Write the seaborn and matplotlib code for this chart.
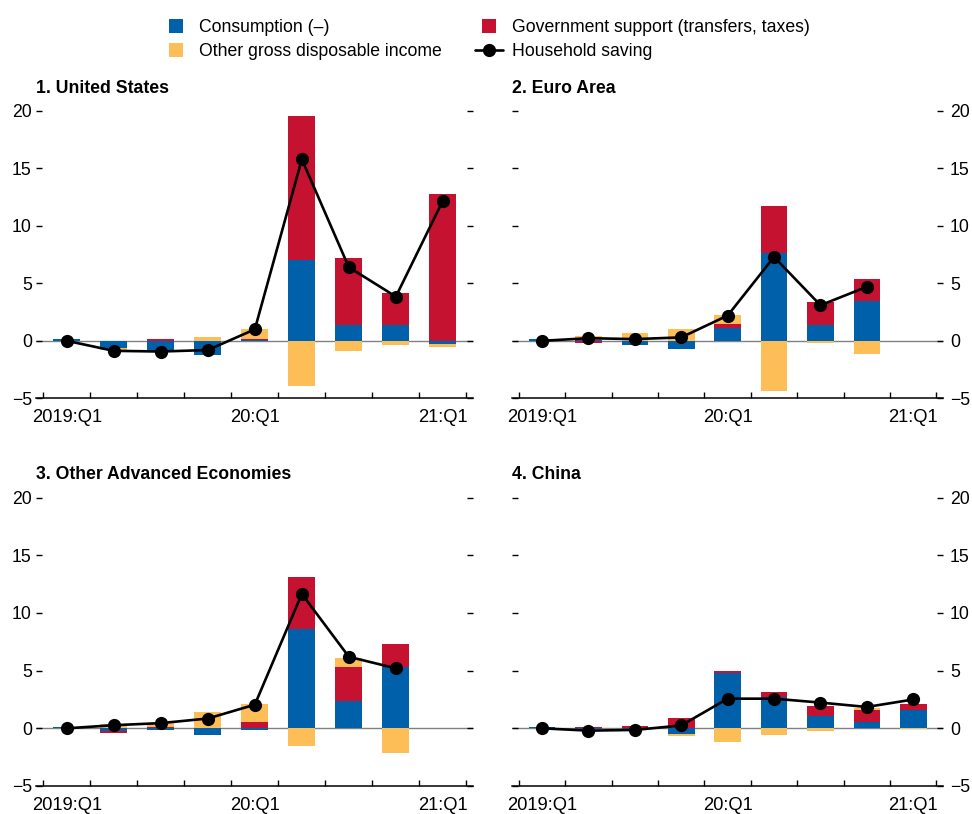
import numpy as np
import pandas as pd
import matplotlib
matplotlib.use("Agg")
import matplotlib.pyplot as plt
from matplotlib.lines import Line2D
import seaborn as sns

# ---------------- data ----------------
quarters = ["2019:Q1", "2019:Q2", "2019:Q3", "2019:Q4", "20:Q1",
            "2020:Q2", "2020:Q3", "2020:Q4", "21:Q1"]
tick_pos = [0, 4, 8]
tick_labels = ["2019:Q1", "20:Q1", "21:Q1"]
nan = np.nan

titles = ["1. United States", "2. Euro Area",
          "3. Other Advanced Economies", "4. China"]

us_cons = [0.2, -0.6, -0.9, -1.2, 0.1, 7.05, 1.4, 1.4, -0.25]
us_gov = [0.0, 0.0, 0.17, 0.0, 0.1, 12.5, 5.8, 2.75, 12.8]
us_other = [0.0, -0.2, -0.1, 0.35, 0.8, -3.9, -0.85, -0.35, -0.25]
us_saving = [0.0, -0.87, -0.93, -0.8, 1.0, 15.8, 6.4, 3.85, 12.2]

ea_cons = [0.15, 0.05, -0.35, -0.7, 1.15, 7.6, 1.4, 3.5, nan]
ea_gov = [0.0, -0.17, 0.0, 0.0, 0.32, 4.15, 2.0, 1.9, nan]
ea_other = [0.0, 0.35, 0.7, 1.05, 0.78, -4.35, -0.17, -1.13, nan]
ea_saving = [0.0, 0.23, 0.15, 0.3, 2.2, 7.3, 3.1, 4.7, nan]

oae_cons = [0.1, -0.2, -0.15, -0.58, -0.15, 8.6, 2.37, 5.32, nan]
oae_gov = [0.0, -0.17, 0.1, 0.0, 0.55, 4.5, 2.95, 2.0, nan]
oae_other = [0.0, 0.35, 0.4, 1.42, 1.55, -1.53, 0.78, -2.14, nan]
oae_saving = [0.0, 0.27, 0.45, 0.85, 2.05, 11.65, 6.2, 5.2, nan]

cn_cons = [0.1, -0.05, -0.05, -0.5, 4.83, 2.7, 1.1, 0.55, 1.62]
cn_gov = [0.0, 0.1, 0.2, 0.9, 0.15, 0.46, 0.84, 1.07, 0.5]
cn_other = [0.0, 0.0, -0.1, -0.17, -1.16, -0.58, -0.23, 0.12, -0.08]
cn_saving = [0.0, -0.2, -0.14, 0.25, 2.57, 2.57, 2.23, 1.85, 2.5]

legend_labels = ["Consumption (\u2013)", "Other gross disposable income",
                 "Government support (transfers, taxes)", "Household saving"]

C_BLUE = "#0060AA"
C_RED = "#C41230"
C_ORANGE = "#FDBE57"

FS = 12.7

# ---------------- style ----------------
sns.set_style("white")
plt.rcParams["font.family"] = ["Liberation Sans", "DejaVu Sans"]
plt.rcParams["font.size"] = FS
plt.rcParams["text.color"] = "black"
plt.rcParams["xtick.color"] = "black"
plt.rcParams["ytick.color"] = "black"

fig = plt.figure(figsize=(9.72, 8.14), dpi=100)
rects = [[0.037, 0.5107, 0.4496, 0.360],
         [0.5264, 0.5107, 0.4437, 0.360],
         [0.037, 0.0344, 0.4496, 0.3614],
         [0.5264, 0.0344, 0.4437, 0.3614]]

panels = [(us_cons, us_gov, us_other, us_saving),
          (ea_cons, ea_gov, ea_other, ea_saving),
          (oae_cons, oae_gov, oae_other, oae_saving),
          (cn_cons, cn_gov, cn_other, cn_saving)]


def draw_panel(ax, cons, gov, other, saving, title, right):
    c = np.array(cons, float)
    g = np.array(gov, float)
    o = np.array(other, float)
    p1 = np.where(c > 0, c, 0.0)
    p2 = p1 + np.where(g > 0, g, 0.0)
    p3 = p2 + np.where(o > 0, o, 0.0)
    n1 = np.where(c < 0, c, 0.0)
    n2 = n1 + np.where(g < 0, g, 0.0)
    n3 = n2 + np.where(o < 0, o, 0.0)
    nanmask = np.isnan(c)
    layers = [(p3, C_ORANGE), (p2, C_RED), (p1, C_BLUE),
              (n3, C_ORANGE), (n2, C_RED), (n1, C_BLUE)]
    ax.axhline(0, color="#808080", lw=1.0, zorder=0.5)
    for vals, col in layers:
        v = vals.copy()
        v[nanmask] = np.nan
        df = pd.DataFrame({"q": quarters, "v": v}).dropna()
        sns.barplot(data=df, x="q", y="v", order=quarters, color=col,
                    saturation=1, width=0.575, ax=ax, linewidth=0,
                    errorbar=None)
    dl = pd.DataFrame({"x": np.arange(len(quarters)), "y": saving}).dropna()
    sns.lineplot(data=dl, x="x", y="y", ax=ax, color="black", lw=1.9,
                 marker="o", markersize=9.5, markeredgewidth=0, zorder=5)
    ax.set(xlabel="", ylabel="")
    ax.set_xlim(-0.655, 8.64)
    ax.set_ylim(-5, 20.5)
    ax.set_yticks([-5, 0, 5, 10, 15, 20])
    ax.set_xticks(tick_pos)
    ax.set_xticklabels(tick_labels)
    ax.set_xticks(np.arange(-0.5, 9.0, 1.0), minor=True)
    ax.tick_params(axis="x", which="major", length=0, pad=8,
                   labelsize=FS + 0.5)
    ax.tick_params(axis="x", which="minor", direction="in", length=4.3,
                   width=1.0, bottom=True)
    ax.tick_params(axis="y", which="major", direction="in", length=4.3,
                   width=1.0, left=True, right=True,
                   labelleft=not right, labelright=right,
                   pad=5 if right else 3, labelsize=FS)
    for s in ["top", "left", "right"]:
        ax.spines[s].set_visible(False)
    ax.spines["bottom"].set_color("black")
    ax.spines["bottom"].set_linewidth(1.1)
    ax.grid(False)
    ax.set_title(title, loc="left", fontweight="bold", fontsize=FS, pad=9)


for i, (rect, data) in enumerate(zip(rects, panels)):
    ax = fig.add_axes(rect)
    draw_panel(ax, *data, titles[i], right=(i % 2 == 1))

handles = [
    Line2D([], [], linestyle="none", marker="s", markersize=10,
           markerfacecolor=C_BLUE, markeredgewidth=0),
    Line2D([], [], linestyle="none", marker="s", markersize=10,
           markerfacecolor=C_ORANGE, markeredgewidth=0),
    Line2D([], [], linestyle="none", marker="s", markersize=10,
           markerfacecolor=C_RED, markeredgewidth=0),
    Line2D([], [], color="black", lw=1.9, marker="o", markersize=9.5,
           markeredgewidth=0),
]
fig.legend(handles, legend_labels, ncol=2, loc="center",
           bbox_to_anchor=(0.5, 1 - 39.5 / 814), frameon=False,
           fontsize=FS, handlelength=1.6, handletextpad=0.5,
           columnspacing=1.9, labelspacing=0.42, borderaxespad=0)

fig.savefig("out.png", dpi=100)
